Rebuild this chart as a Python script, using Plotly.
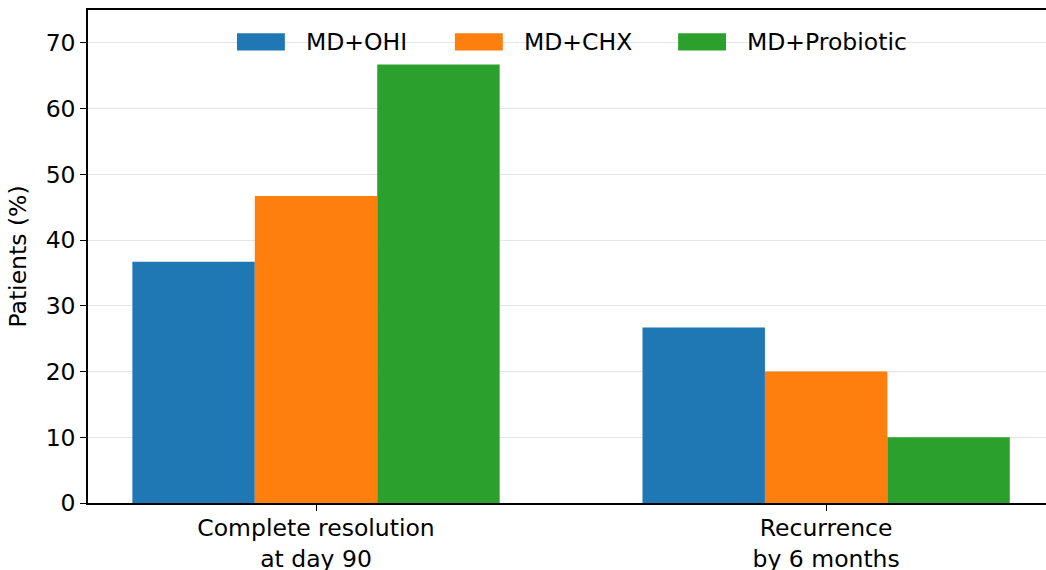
import plotly.graph_objects as go

categories = ["Complete resolution<br>at day 90", "Recurrence<br>by 6 months"]
groups = ["MD+OHI", "MD+CHX", "MD+Probiotic"]
ohi = [36.7, 26.7]
chx = [46.7, 20.0]
probiotic = [66.7, 10.0]
colors = ["#1f77b4", "#ff7f0e", "#2ca02c"]

FONT = "DejaVu Sans"
FS = 23.5

fig = go.Figure()
for name, vals, col in zip(groups, [ohi, chx, probiotic], colors):
    fig.add_trace(go.Bar(x=categories, y=vals, name=name, marker=dict(color=col, line=dict(width=0)),
                         showlegend=False))

# custom legend (patch + label), drawn in paper coordinates
leg_x = [0.1555, 0.383, 0.616]
for name, col, lx in zip(groups, colors, leg_x):
    fig.add_shape(type="rect", xref="paper", yref="paper", x0=lx, x1=lx + 0.05,
                  y0=0.918, y1=0.953, fillcolor=col, line=dict(width=0))
    fig.add_annotation(xref="paper", yref="paper", x=lx + 0.07, y=0.935, text=name,
                       showarrow=False, xanchor="left", yanchor="middle",
                       font=dict(family=FONT, size=FS, color="black"))

fig.update_layout(
    width=1046, height=570,
    margin=dict(l=88, r=0, t=10, b=67),
    paper_bgcolor="white", plot_bgcolor="white",
    barmode="group", bargap=0.28, bargroupgap=0,
    font=dict(family=FONT, size=FS, color="black"),
)
fig.update_xaxes(type="category", range=[-0.447, 1.431], showline=True, linecolor="black",
                 linewidth=1.5, mirror=True, ticks="outside", ticklen=6, tickwidth=1.2,
                 tickcolor="black", showgrid=False, tickfont=dict(family=FONT, size=FS),
                 automargin=False, ticklabelstandoff=-3)
fig.update_yaxes(range=[0, 75], tickvals=[0, 10, 20, 30, 40, 50, 60, 70], showline=True,
                 linecolor="black", linewidth=1.5, ticks="outside", ticklen=6, tickwidth=1.2,
                 tickcolor="black", showgrid=True, gridcolor="#e5e5e5", gridwidth=1.2,
                 zeroline=False, automargin=False,
                 title=dict(text="Patients (%)", font=dict(family=FONT, size=FS), standoff=12),
                 tickfont=dict(family=FONT, size=FS))

fig.write_html("out.html", config={"displayModeBar": False},
               post_script="document.body.style.margin='0';document.body.style.overflow='hidden';")
